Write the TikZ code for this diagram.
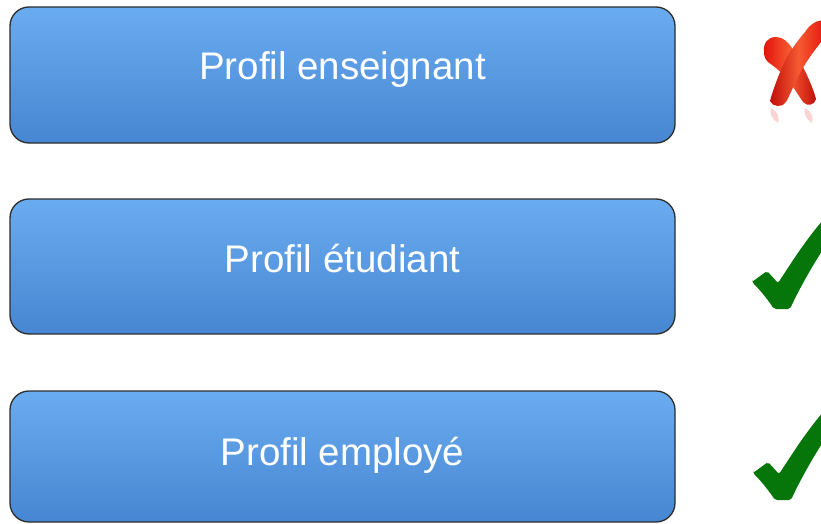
\documentclass[tikz,border=0pt]{standalone}
\usepackage{fontspec}
\setmainfont{Liberation Sans}
\definecolor{boxtop}{RGB}{106,172,240}
\definecolor{boxbot}{RGB}{70,134,210}
\definecolor{boxline}{RGB}{45,45,45}
\definecolor{okgreen}{RGB}{6,118,10}
\definecolor{nored}{RGB}{226,18,12}
\definecolor{nolight}{RGB}{246,90,50}
\tikzset{
  profilebox/.style={draw=boxline, line width=1.3pt, rounded corners=19pt,
    top color=boxtop, bottom color=boxbot, minimum width=665pt,
    text=white, font=\fontsize{38.5}{40}\selectfont, inner sep=0pt},
  checkmark/.pic={
    \fill[okgreen, rounded corners=2pt] (0,0) -- (15,-11) -- (26,1)
      .. controls (40,-20) and (55,-45) .. (80,-72) -- (86,-55)
      .. controls (65,-25) and (48,5) .. (38,27) -- (22,27)
      .. controls (14,15) and (6,6) .. cycle;
  }
}
\begin{document}
\begin{tikzpicture}[x=1pt,y=-1pt]
\useasboundingbox (0,0) rectangle (821,524);
\clip (0,0) rectangle (821,524);
\fill[white] (0,0) rectangle (821,524);

\node[profilebox, minimum height=136pt, text height=30pt, text depth=20pt] (p1) at (342.5,75) {Profil enseignant};
\node[profilebox, minimum height=135pt, text height=30pt, text depth=19pt] (p2) at (342.5,266.5) {Profil étudiant};
\node[profilebox, minimum height=131pt, text height=30pt, text depth=12pt] (p3) at (342.5,456.5) {Profil employé};

% red cross
\begin{scope}
  \fill[nored, opacity=0.18] (771,108) .. controls (777,111) and (780,117) .. (778,123) .. controls (772,119) and (769,113) .. cycle;
  \fill[nored, opacity=0.18] (805,108) .. controls (811,111) and (814,117) .. (812,123) .. controls (806,119) and (803,113) .. cycle;
  \shade[left color=nored, right color=nored!85!black, middle color=nolight]
    (764,52) .. controls (763,43) and (768,37) .. (776,37)
    .. controls (783,37) and (788,42) .. (792,48)
    -- (803,67) .. controls (809,79) and (814,91) .. (816,99)
    .. controls (815,105) and (807,107) .. (803,102)
    -- (789,81) .. controls (781,71) and (772,65) .. (768,62)
    .. controls (765,59) and (764,56) .. cycle;
  \shade[left color=nored!85!black, right color=nored, middle color=nolight]
    (805,32) .. controls (810,24) and (818,19) .. (825,21)
    -- (827,35) .. controls (815,49) and (805,63) .. (799,75)
    .. controls (793,87) and (789,97) .. (786,102)
    .. controls (783,108) and (772,107) .. (770,101)
    .. controls (773,90) and (779,73) .. (787,57)
    .. controls (793,47) and (799,39) .. cycle;
\end{scope}

\pic at (752,282) {checkmark};
\pic at (753,473) {checkmark};
\end{tikzpicture}
\end{document}
